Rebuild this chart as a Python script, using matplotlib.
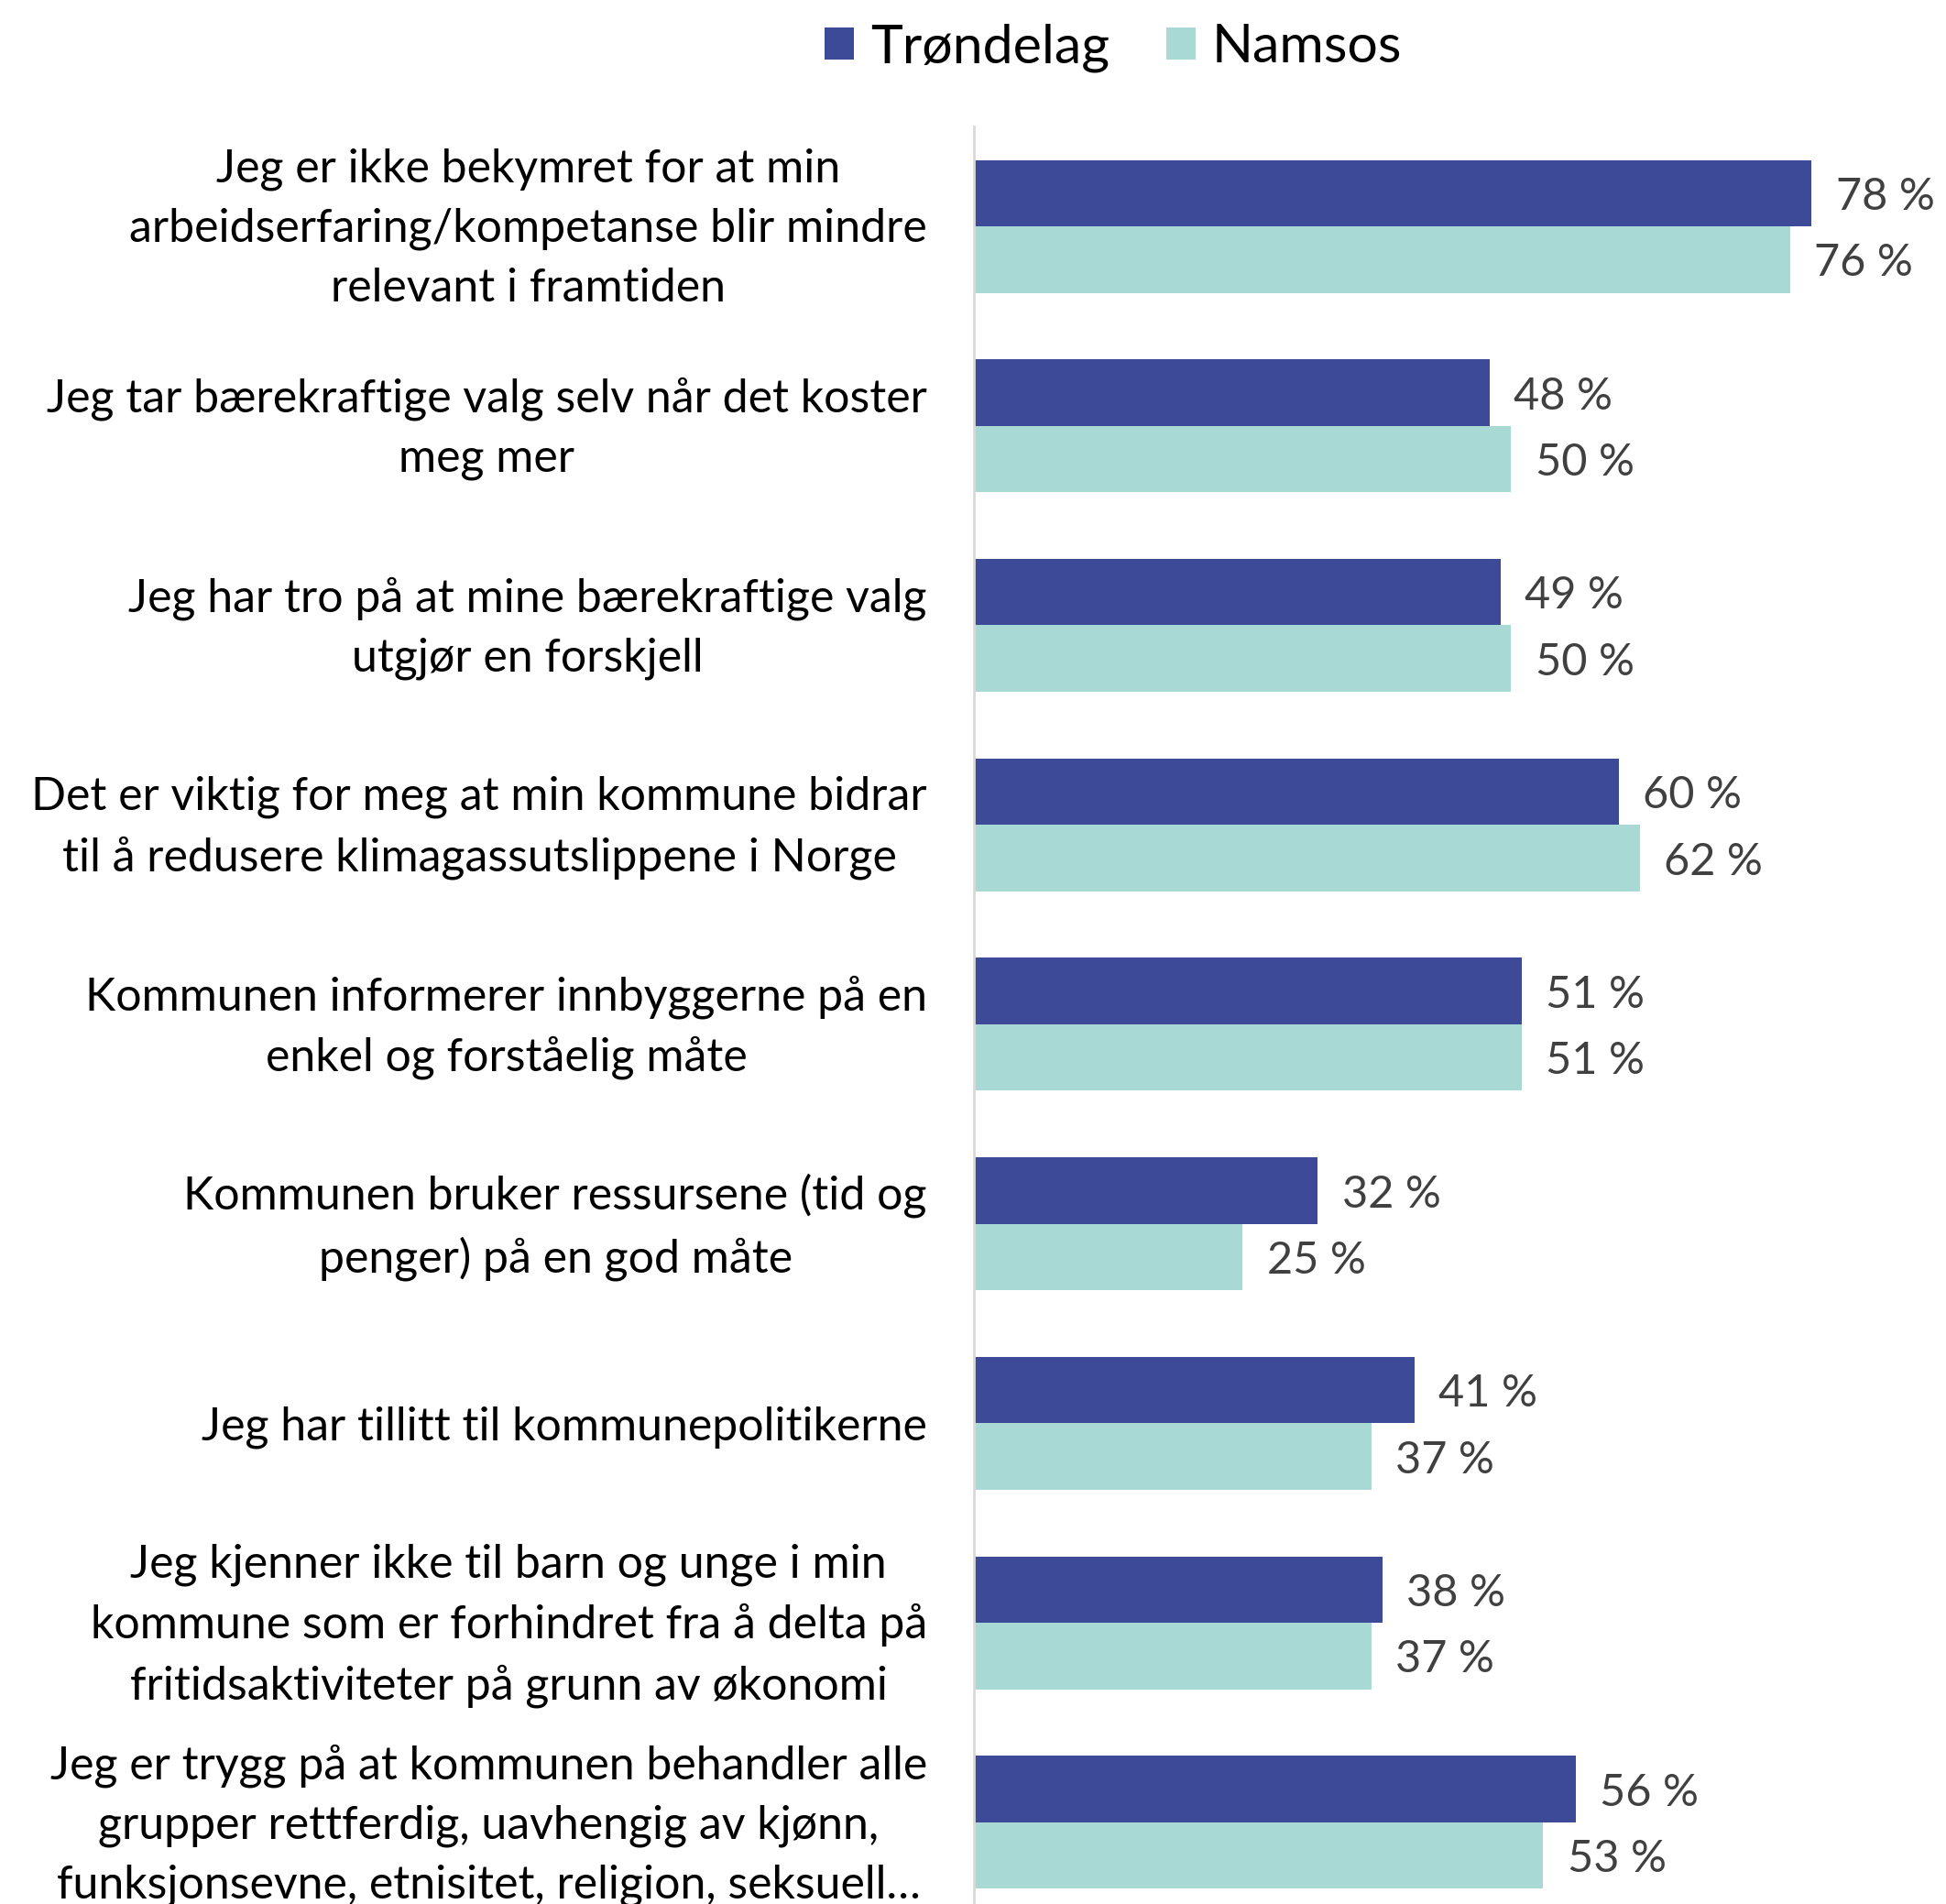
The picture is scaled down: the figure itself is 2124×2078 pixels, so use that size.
import matplotlib
matplotlib.use("Agg")
import matplotlib.pyplot as plt
import matplotlib.transforms as mtransforms
import numpy as np

plt.rcParams['font.family'] = ['Lato', 'DejaVu Sans']

categories = [
    "Jeg er ikke bekymret for at min\narbeidserfaring/kompetanse blir mindre\nrelevant i framtiden",
    "Jeg tar bærekraftige valg selv når det koster\nmeg mer",
    "Jeg har tro på at mine bærekraftige valg\nutgjør en forskjell",
    "Det er viktig for meg at min kommune bidrar\ntil å redusere klimagassutslippene i Norge",
    "Kommunen informerer innbyggerne på en\nenkel og forståelig måte",
    "Kommunen bruker ressursene (tid og\npenger) på en god måte",
    "Jeg har tillitt til kommunepolitikerne",
    "Jeg kjenner ikke til barn og unge i min\nkommune som er forhindret fra å delta på\nfritidsaktiviteter på grunn av økonomi",
    "Jeg er trygg på at kommunen behandler alle\ngrupper rettferdig, uavhengig av kjønn,\nfunksjonsevne, etnisitet, religion, seksuell…",
]
trondelag = [78, 48, 49, 60, 51, 32, 41, 38, 56]
namsos = [76, 50, 50, 62, 51, 25, 37, 37, 53]
series_names = ["Trøndelag", "Namsos"]

c_trond = "#3D4A97"
c_nams = "#A8D9D5"

fig = plt.figure(figsize=(21.24, 20.78), dpi=100)
ax = fig.add_axes([0.5006, 0.0, 0.4994, 0.9335])

y = np.arange(len(categories))
h = 0.333
b1 = ax.barh(y - h / 2, trondelag, height=h, color=c_trond, label=series_names[0])
b2 = ax.barh(y + h / 2, namsos, height=h, color=c_nams, label=series_names[1])

for bars, vals in [(b1, trondelag), (b2, namsos)]:
    anns = ax.bar_label(bars, labels=[f"{v} %" for v in vals], padding=19, fontsize=35, color="#404040")
    for a in anns:
        a.xyann = (19, -3)

ax.set_xlim(0, 90.5)
ax.set_ylim(8.41, -0.5)
ax.set_yticks(y)
ax.set_yticklabels(categories, fontsize=36, multialignment="center", color="black",
                   linespacing=1.5)
ax.tick_params(axis="y", length=0, pad=37)
# nudge multi-line labels up so the middle line sits on the bar centre
for lbl in ax.get_yticklabels():
    if "\n" in lbl.get_text():
        lbl.set_transform(lbl.get_transform() +
                          mtransforms.ScaledTranslation(0, 0.11, fig.dpi_scale_trans))
ax.xaxis.set_visible(False)
for s in ["top", "right", "bottom"]:
    ax.spines[s].set_visible(False)
ax.spines["left"].set_color("#D9D9D9")
ax.spines["left"].set_linewidth(2)

fig.legend(handles=[b1, b2], labels=series_names, loc="center", bbox_to_anchor=(0.572, 0.975),
           ncol=2, frameon=False, fontsize=42.5, handlelength=0.55, handleheight=0.55,
           handletextpad=0.3, columnspacing=1.05)

fig.savefig("out.png", dpi=100)
